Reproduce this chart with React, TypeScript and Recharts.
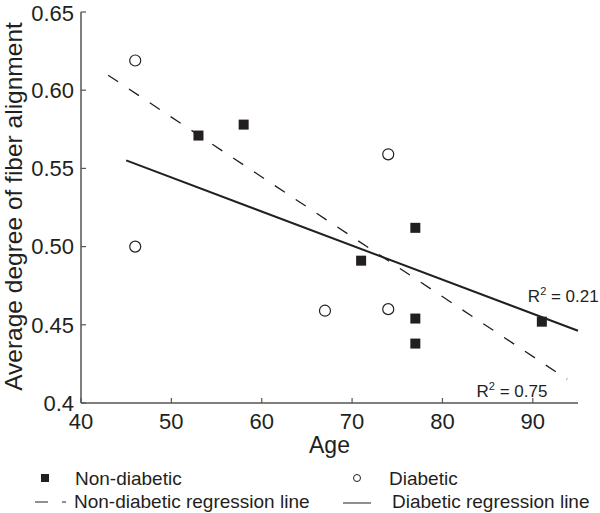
import React from 'react';
import { ScatterChart, Scatter, XAxis, YAxis, Label } from 'recharts';

// ---- data ----
const ageTicks = [40, 50, 60, 70, 80, 90];
const alignmentTicks = [0.4, 0.45, 0.5, 0.55, 0.6, 0.65];

const nonDiabetic = [
  { age: 53, alignment: 0.571 },
  { age: 58, alignment: 0.578 },
  { age: 71, alignment: 0.491 },
  { age: 77, alignment: 0.512 },
  { age: 77, alignment: 0.454 },
  { age: 77, alignment: 0.438 },
  { age: 91, alignment: 0.452 },
];

const diabetic = [
  { age: 46, alignment: 0.619 },
  { age: 46, alignment: 0.5 },
  { age: 67, alignment: 0.459 },
  { age: 74, alignment: 0.559 },
  { age: 74, alignment: 0.46 },
];

const nonDiabeticFit = [
  { age: 43, alignment: 0.6096 },
  { age: 93.8, alignment: 0.4152 },
];

const diabeticFit = [
  { age: 45, alignment: 0.5551 },
  { age: 95, alignment: 0.4462 },
];

const r2Labels = [
  { age: 89.45, alignment: 0.4686, text: '0.21' },
  { age: 83.77, alignment: 0.4077, text: '0.75' },
];

const legendLabels = ['Non-diabetic', 'Diabetic', 'Non-diabetic regression line', 'Diabetic regression line'];

// ---- styles ----
const INK = '#231f20';
const AXIS = '#555555';
const FONT = '"Liberation Sans", Arial, Helvetica, sans-serif';

const SquareShape = (p: any) => (
  <rect x={p.cx - 5} y={p.cy - 5} width={10} height={10} fill={INK} />
);
const CircleShape = (p: any) => (
  <circle cx={p.cx} cy={p.cy} r={5.5} fill="#ffffff" stroke={INK} strokeWidth={1.2} />
);
const NoShape = () => <g />;

const R2Shape = (p: any) => (
  <text x={p.cx} y={p.cy} dy="0.36em" fontSize={17} fill={INK} fontFamily={FONT}>
    R<tspan fontSize={11} dy={-7}>2</tspan>
    <tspan dy={7}>{' = ' + p.payload.text}</tspan>
  </text>
);

const YLabel = (props: any) => {
  const vb = props.viewBox;
  const x = vb.x + 22;
  const y = vb.y + vb.height / 2 - 1;
  return (
    <text
      x={x}
      y={y}
      transform={`rotate(-90, ${x}, ${y})`}
      textAnchor="middle"
      fontSize={24.5}
      fill={INK}
      fontFamily={FONT}
    >
      Average degree of fiber alignment
    </text>
  );
};

const XLabel = (props: any) => {
  const vb = props.viewBox;
  return (
    <text x={vb.x + vb.width / 2} y={vb.y + 50} textAnchor="middle" fontSize={23} fill={INK} fontFamily={FONT}>
      Age
    </text>
  );
};

const fmtY = (v: number) => (v === 0.4 ? '0.4' : v.toFixed(2));

export default function App() {
  return (
    <div style={{ position: 'absolute', left: 0, top: 0, width: 600, height: 513, background: '#fff' }}>
      <ScatterChart width={600} height={513} margin={{ top: 12, right: 22, bottom: 0, left: 0 }}>
        <XAxis
          type="number"
          dataKey="age"
          domain={[40, 95]}
          ticks={ageTicks}
          height={110}
          axisLine={{ stroke: AXIS, strokeWidth: 1.5 }}
          tickLine={{ stroke: AXIS, strokeWidth: 1.2 }}
          tickSize={-5}
          tickMargin={15}
          tick={{ fill: INK, fontSize: 22, fontFamily: FONT }}
        >
          <Label content={XLabel} />
        </XAxis>
        <YAxis
          type="number"
          dataKey="alignment"
          domain={[0.4, 0.65]}
          ticks={alignmentTicks}
          width={81}
          tickFormatter={fmtY}
          axisLine={{ stroke: AXIS, strokeWidth: 1.5 }}
          tickLine={{ stroke: AXIS, strokeWidth: 1.2 }}
          tickSize={-5}
          tickMargin={12}
          tick={{ fill: INK, fontSize: 22, fontFamily: FONT }}
        >
          <Label content={YLabel} />
        </YAxis>
        <Scatter
          data={nonDiabeticFit}
          line={{ stroke: INK, strokeWidth: 1.3, strokeDasharray: '12 13' }}
          shape={NoShape}
          isAnimationActive={false}
        />
        <Scatter
          data={diabeticFit}
          line={{ stroke: INK, strokeWidth: 2 }}
          shape={NoShape}
          isAnimationActive={false}
        />
        <Scatter data={diabetic} shape={CircleShape} isAnimationActive={false} />
        <Scatter data={nonDiabetic} shape={SquareShape} isAnimationActive={false} />
        <Scatter data={r2Labels} shape={R2Shape} isAnimationActive={false} />
      </ScatterChart>
      <svg
        width={600}
        height={513}
        style={{ position: 'absolute', left: 0, top: 0, pointerEvents: 'none' }}
      >
        <g fontFamily={FONT} fontSize={19} fill={INK}>
          <rect x={41} y={474} width={8} height={8} fill={INK} />
          <text x={75} y={485}>{legendLabels[0]}</text>
          <circle cx={357} cy={478} r={3.5} fill="none" stroke={INK} strokeWidth={1} />
          <text x={389} y={485}>{legendLabels[1]}</text>
          <line x1={35} y1={502} x2={48} y2={502} stroke={INK} strokeWidth={1} />
          <line x1={62} y1={502} x2={66} y2={502} stroke={INK} strokeWidth={1} />
          <text x={74} y={508}>{legendLabels[2]}</text>
          <line x1={343} y1={503} x2={371} y2={503} stroke={INK} strokeWidth={1} />
          <text x={392} y={508}>{legendLabels[3]}</text>
        </g>
      </svg>
    </div>
  );
}
